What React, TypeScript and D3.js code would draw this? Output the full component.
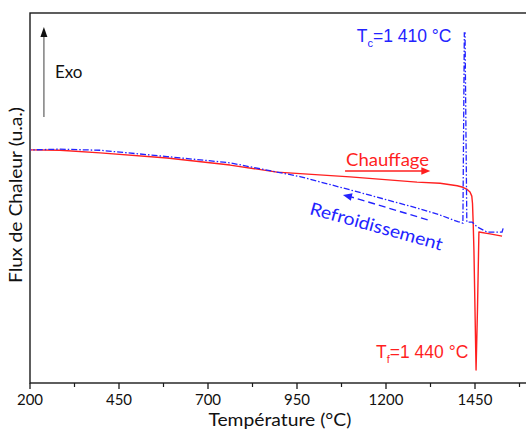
import React from "react";
import * as d3 from "d3";

// Heating curve (Chauffage) – temperature (°C) vs heat flux (a.u.)
const heatT = [200, 284, 397, 585, 762, 894, 1099, 1287, 1352, 1400, 1416, 1428, 1436, 1441, 1443, 1445, 1447, 1453, 1457, 1461, 1492, 1526];
const heatF = [6.30, 6.29, 6.22, 6.08, 5.89, 5.70, 5.57, 5.43, 5.40, 5.33, 5.29, 5.23, 5.16, 5.05, 4.85, 4.3, 3.59, 0.35, 2.0, 4.08, 4.03, 3.97];

// Cooling curve (Refroidissement)
const coolT = [1529, 1526, 1484, 1456, 1442, 1427, 1422, 1420, 1416, 1402, 1352, 1287, 1099, 958, 894, 762, 585, 397, 284, 200];
const coolF = [4.18, 4.08, 4.08, 4.22, 4.35, 4.35, 9.46, 9.46, 4.32, 4.36, 4.54, 4.73, 5.22, 5.58, 5.70, 5.95, 6.12, 6.29, 6.32, 6.30];

const xMajorTicks = [200, 450, 700, 950, 1200, 1450];
const xMinorTicks = [325, 575, 825, 1075, 1325, 1575];

const W = 526;
const H = 433;
const RED = "#ff1f1f";
const BLUE = "#2323ff";
const CAL = "Lato, 'Open Sans', sans-serif";
const ARI = "'Liberation Sans', Arial, sans-serif";

export default function App() {
  const x = d3.scaleLinear().domain([200, 1600]).range([30, 528.4]);
  const y = d3.scaleLinear().domain([0, 10]).range([383, 13]);

  const heat = heatT.map((t, i) => [t, heatF[i]] as [number, number]);
  const cool = coolT.map((t, i) => [t, coolF[i]] as [number, number]);

  const line = d3
    .line<[number, number]>()
    .x((d) => x(d[0]))
    .y((d) => y(d[1]));

  const x0 = x(200);
  const y0 = y(0);
  const yTop = y(10);

  // annotation anchors in data space
  const exoX = x(239);
  const chaufX1 = x(1085);
  const chaufX2 = x(1302);
  const chaufY = y(5.73);
  const dashA = [x(1317), y(4.41)];
  const dashB = [x(1102), y(5.03)];
  const dashTip = [x(1079), y(5.08)];

  return (
    <svg
      width={W}
      height={H}
      style={{ position: "absolute", left: 0, top: 0, background: "#fff" }}
    >
      {/* frame */}
      <rect x={x0} y={yTop} width={x(1600) - x0} height={y0 - yTop} fill="none" stroke="#1a1a1a" strokeWidth={1.4} />

      {/* x ticks */}
      {xMajorTicks.map((t) => (
        <g key={"M" + t}>
          <line x1={x(t)} x2={x(t)} y1={y0} y2={y0 + 6} stroke="#1a1a1a" strokeWidth={1.3} />
          <text x={x(t)} y={y0 + 22} textAnchor="middle" fontFamily={CAL} fontSize={15} fill="#111">
            {t}
          </text>
        </g>
      ))}
      {xMinorTicks.map((t) => (
        <line key={"m" + t} x1={x(t)} x2={x(t)} y1={y0} y2={y0 + 4} stroke="#1a1a1a" strokeWidth={1.2} />
      ))}
      <text
        x={x(902)}
        y={y0 + 43}
        textAnchor="middle"
        fontFamily={CAL}
        fontSize={16.5}
        fill="#111"
        textLength={143}
        lengthAdjust="spacingAndGlyphs"
      >
        Température (°C)
      </text>
      <text
        transform={`translate(22, ${y(5.08)}) rotate(-90)`}
        textAnchor="middle"
        fontFamily={CAL}
        fontSize={17}
        fill="#111"
        textLength={176}
        lengthAdjust="spacingAndGlyphs"
      >
        Flux de Chaleur (u.a.)
      </text>

      {/* curves */}
      <path d={line(heat) || ""} fill="none" stroke={RED} strokeWidth={1.4} strokeLinejoin="round" />
      <path d={line(cool) || ""} fill="none" stroke={BLUE} strokeWidth={1.3} strokeDasharray="6,2,1.5,2" />

      {/* Exo arrow */}
      <line x1={exoX} x2={exoX} y1={y(7.19)} y2={y(9.35)} stroke="#888" strokeWidth={1.6} />
      <path
        d={`M${exoX},${y(9.62)} L${exoX - 3.5},${y(9.35)} L${exoX + 3.5},${y(9.35)} Z`}
        fill="#111"
      />
      <text x={x(270)} y={y(8.24)} fontFamily={CAL} fontSize={17} fill="#111">
        Exo
      </text>

      {/* Tc label */}
      <text x={x(1118)} y={y(9.22)} fontFamily={ARI} fontSize={17.5} fill={BLUE}>
        T
        <tspan fontSize={11} dy={5}>c</tspan>
        <tspan dy={-5}>=1 410 °C</tspan>
      </text>

      {/* Tf label */}
      <text x={x(1172)} y={y(0.68)} fontFamily={ARI} fontSize={17.5} fill={RED}>
        T
        <tspan fontSize={11} dy={5}>f</tspan>
        <tspan dy={-5}>=1 440 °C</tspan>
      </text>

      {/* Chauffage */}
      <text x={x(1088)} y={y(5.86)} fontFamily={CAL} fontSize={17.5} fill={RED} textLength={83} lengthAdjust="spacingAndGlyphs">
        Chauffage
      </text>
      <line x1={chaufX1} x2={chaufX2} y1={chaufY} y2={chaufY} stroke={RED} strokeWidth={1.5} />
      <path
        d={`M${chaufX2 + 8},${chaufY} L${chaufX2 - 1},${chaufY - 3.8} L${chaufX2 - 1},${chaufY + 3.8} Z`}
        fill={RED}
      />

      {/* Refroidissement */}
      <line x1={dashA[0]} y1={dashA[1]} x2={dashB[0]} y2={dashB[1]} stroke={BLUE} strokeWidth={1.4} strokeDasharray="7,4" />
      <path
        d={(() => {
          const ang = Math.atan2(dashTip[1] - dashB[1], dashTip[0] - dashB[0]);
          const px = Math.cos(ang + Math.PI / 2) * 3.8;
          const py = Math.sin(ang + Math.PI / 2) * 3.8;
          const bx = dashTip[0] - Math.cos(ang) * 9;
          const by = dashTip[1] - Math.sin(ang) * 9;
          return `M${dashTip[0]},${dashTip[1]} L${bx + px},${by + py} L${bx - px},${by - py} Z`;
        })()}
        fill={BLUE}
      />
      <text
        transform={`translate(${x(983)}, ${y(4.57)}) rotate(15.5)`}
        fontFamily={CAL}
        fontSize={17.5}
        fill={BLUE}
        textLength={137}
        lengthAdjust="spacingAndGlyphs"
      >
        Refroidissement
      </text>
    </svg>
  );
}
